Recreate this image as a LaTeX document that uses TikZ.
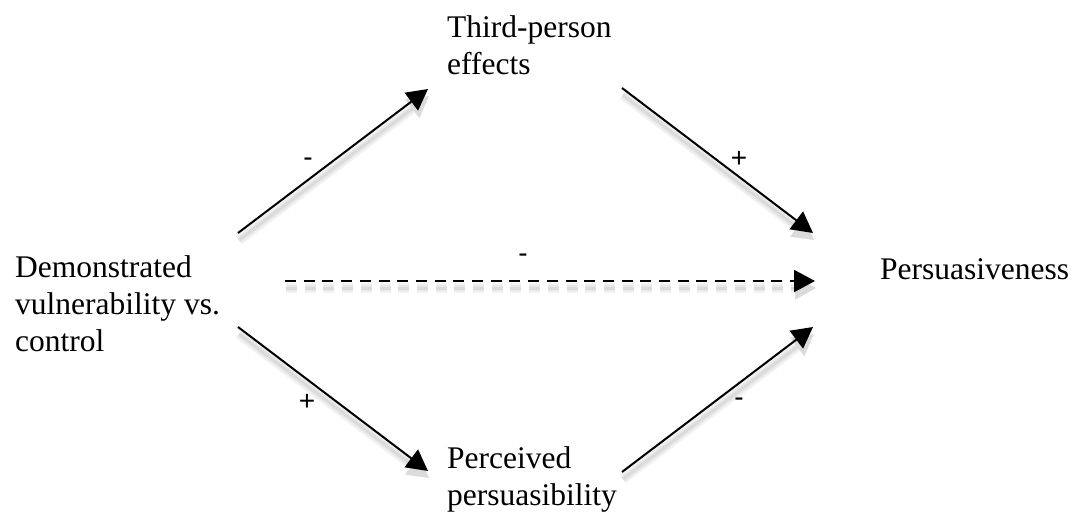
\documentclass[tikz,border=0pt]{standalone}
\usepackage{fontspec}
\setmainfont{Liberation Serif}
\newfontfamily\signfont{Liberation Sans}
\usetikzlibrary{arrows.meta}
\tikzset{
  lbl/.style={inner sep=0pt, anchor=base west, font=\fontsize{31.5}{37}\selectfont},
  sgn/.style={inner sep=0pt, anchor=base, font=\signfont\fontsize{28}{30}\selectfont},
  conn/.style={line width=2pt, -{Triangle[length=21pt,width=22pt]}},
  dashpat/.style={dash pattern=on 11pt off 7.7pt},
  shd/.style={-{Triangle[length=21pt,width=22pt]}, line join=round, transform canvas={shift={(1pt,-7pt)}}},
}
\newcommand\shadowpath[3][]{%
  \draw[shd,#1,draw=black!5,line width=10pt] (#2) -- (#3);
  \draw[shd,#1,draw=black!9,line width=6pt] (#2) -- (#3);
  \draw[shd,#1,draw=black!14,line width=3pt] (#2) -- (#3);
}
\begin{document}
\begin{tikzpicture}[x=1pt,y=-1pt]
\useasboundingbox (0,0) rectangle (1072,516);
% labels
\node[lbl] (tp) at (447,37.5) {\begin{tabular}[t]{@{}l@{}}Third-person\\effects\end{tabular}};
\node[lbl] (pp) at (447,468) {\begin{tabular}[t]{@{}l@{}}Perceived\\persuasibility\end{tabular}};
\node[lbl] (dv) at (15,277) {\begin{tabular}[t]{@{}l@{}}Demonstrated\\vulnerability vs.\\control\end{tabular}};
\node[lbl] (pe) at (880,279) {Persuasiveness};
% arrow end points
\coordinate (a1s) at (238,233); \coordinate (a1e) at (428,89);
\coordinate (a2s) at (622,88);  \coordinate (a2e) at (813,233);
\coordinate (a3s) at (285,281); \coordinate (a3e) at (815,281);
\coordinate (a4s) at (238,327); \coordinate (a4e) at (428,471);
\coordinate (a5s) at (622,472); \coordinate (a5e) at (813,327);
% shadows
\shadowpath{a1s}{a1e}
\shadowpath{a2s}{a2e}
\shadowpath[dashpat]{a3s}{a3e}
\shadowpath{a4s}{a4e}
\shadowpath{a5s}{a5e}
% arrows
\draw[conn] (a1s) -- (a1e);
\draw[conn] (a2s) -- (a2e);
\draw[conn,dashpat] (a3s) -- (a3e);
\draw[conn] (a4s) -- (a4e);
\draw[conn] (a5s) -- (a5e);
% signs
\node[sgn] (s1) at (308,166.4) {-};
\node[sgn] (s2) at (739,168) {+};
\node[sgn] (s3) at (523,262.4) {-};
\node[sgn] (s4) at (307,410) {+};
\node[sgn] (s5) at (739,406.4) {-};
\end{tikzpicture}
\end{document}
